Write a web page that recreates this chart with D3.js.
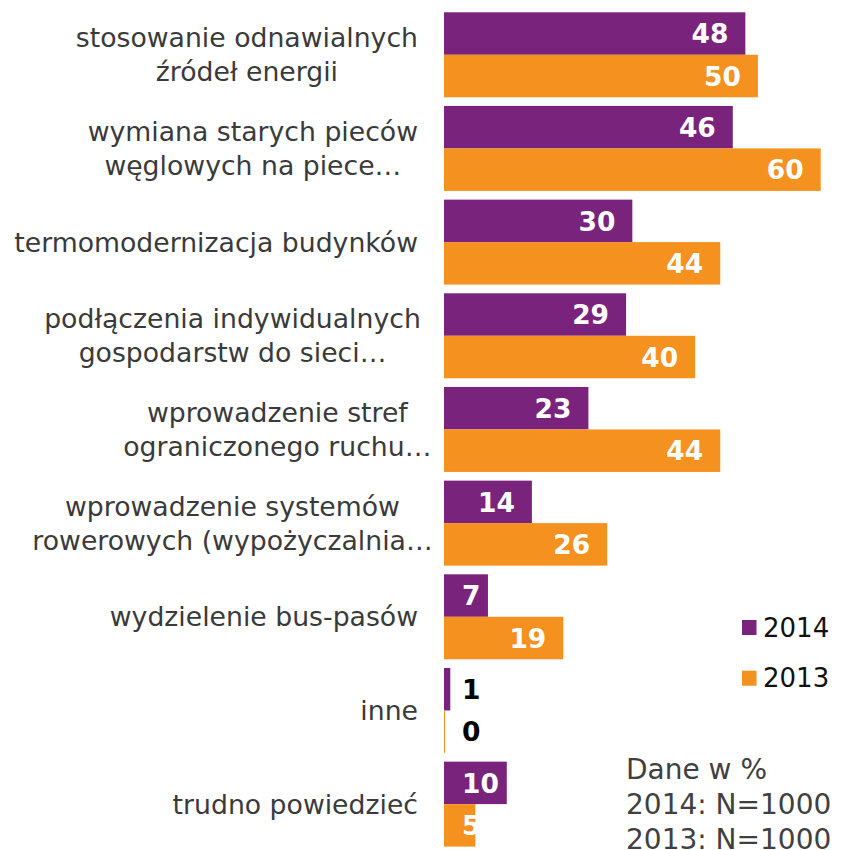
<!DOCTYPE html>
<html>
<head>
<meta charset="utf-8">
<script src="https://cdn.jsdelivr.net/npm/d3@7"></script>
<style>
  body { margin: 0; background: #fff; }
  svg { display: block; font-family: "DejaVu Sans", Verdana, sans-serif; }
</style>
</head>
<body>
<svg id="chart" width="846" height="850"></svg>
<script>
// kategorie (linie etykiet)
const categories = [
  ['stosowanie odnawialnych', 'źródeł energii'],
  ['wymiana starych pieców', 'węglowych na piece…'],
  ['termomodernizacja budynków'],
  ['podłączenia indywidualnych', 'gospodarstw do sieci…'],
  ['wprowadzenie stref', 'ograniczonego ruchu…'],
  ['wprowadzenie systemów', 'rowerowych (wypożyczalnia…'],
  ['wydzielenie bus-pasów'],
  ['inne'],
  ['trudno powiedzieć']
];
const values2014 = [48, 46, 30, 29, 23, 14, 7, 1, 10];
const values2013 = [50, 60, 44, 40, 44, 26, 19, 0, 5];
const seriesNames = ['2014', '2013'];
const notes = ['Dane w %', '2014: N=1000', '2013: N=1000'];

const colors = { '2014': '#7a237c', '2013': '#f5911e' };

const svg = d3.select('#chart');
const x0 = 444;
const labelRight = 418;
const labelMaxW = 371;

const keys = categories.map((d, i) => i);
const y = d3.scaleBand()
  .domain(keys)
  .range([12.3, 846.6])
  .paddingInner(0.093)
  .paddingOuter(0);
const ySub = d3.scaleBand()
  .domain(seriesNames)
  .range([0, y.bandwidth()]);
const x = d3.scaleLinear()
  .domain([0, 60])
  .range([x0, 820.7]);

const rows = keys.map(i => ({
  i,
  lines: categories[i],
  vals: [{ s: '2014', v: values2014[i] }, { s: '2013', v: values2013[i] }]
}));

// słupki
const groups = svg.append('g').attr('class', 'bars')
  .selectAll('g')
  .data(rows)
  .enter()
  .append('g')
  .attr('transform', d => `translate(0,${y(d.i)})`);

groups.selectAll('rect')
  .data(d => d.vals)
  .enter()
  .append('rect')
  .attr('x', x0)
  .attr('y', d => ySub(d.s))
  .attr('width', d => Math.max(x(d.v) - x0, 1)) // zero też widoczne jako cienka kreska
  .attr('height', ySub.bandwidth())
  .attr('fill', d => colors[d.s]);

// etykiety wartości
groups.selectAll('text.val')
  .data(d => d.vals)
  .enter()
  .append('text')
  .attr('class', 'val')
  .attr('y', d => ySub(d.s) + ySub.bandwidth() / 2)
  .attr('dy', '0.37em')
  .attr('text-anchor', 'end')
  .style('font-size', '26.5px')
  .style('font-weight', 'bold')
  .text(d => d.v)
  .each(function (d) {
    const w = this.getComputedTextLength();
    const start = x0 + 18;
    const xr = Math.max(x(d.v) - 17, start + w);
    d3.select(this)
      .attr('x', xr)
      .attr('fill', x(d.v) < start ? '#000' : '#fff');
  });

// etykiety kategorii
const lab = svg.append('g').attr('class', 'labels');
rows.forEach(d => {
  const cy = y(d.i) + y.bandwidth() / 2;
  const n = d.lines.length;
  const g = lab.append('g');
  const texts = d.lines.map((line, k) => g.append('text')
    .attr('y', cy + (k - (n - 1) / 2) * 34)
    .attr('dy', '0.36em')
    .attr('text-anchor', 'middle')
    .attr('fill', '#3a3a3a')
    .style('font-size', '26.7px')
    .text(line));
  // szerokość bez wielokropka
  let w = 0;
  texts.forEach(t => {
    let tw = t.node().getComputedTextLength();
    if (t.text().endsWith('…')) tw -= t.node().getSubStringLength(t.text().length - 1, 1);
    w = Math.max(w, tw);
  });
  if (n > 1) w = Math.min(w, labelMaxW);
  texts.forEach(t => t.attr('x', labelRight - w / 2));
});

// legenda
const legend = svg.append('g').attr('class', 'legend')
  .selectAll('g')
  .data(seriesNames)
  .enter()
  .append('g')
  .attr('transform', (d, i) => `translate(742,${620 + i * 50.7})`);
legend.append('rect')
  .attr('width', 14.5)
  .attr('height', 15)
  .attr('fill', d => colors[d]);
legend.append('text')
  .attr('x', 21)
  .attr('y', 16.5)
  .attr('fill', '#111')
  .style('font-size', '26px')
  .text(d => d);

// notka
svg.append('g').attr('class', 'note')
  .selectAll('text')
  .data(notes)
  .enter()
  .append('text')
  .attr('x', 626)
  .attr('y', (d, i) => 779 + i * 35)
  .attr('fill', '#404040')
  .style('font-size', '28px')
  .text(d => d);
</script>
</body>
</html>
